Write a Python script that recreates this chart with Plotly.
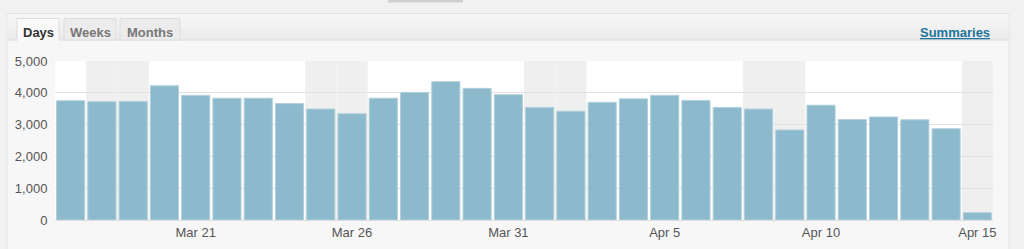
import plotly.graph_objects as go

# ---- data ----
dates = ["Mar 17", "Mar 18", "Mar 19", "Mar 20", "Mar 21", "Mar 22", "Mar 23", "Mar 24",
         "Mar 25", "Mar 26", "Mar 27", "Mar 28", "Mar 29", "Mar 30", "Mar 31", "Apr 1",
         "Apr 2", "Apr 3", "Apr 4", "Apr 5", "Apr 6", "Apr 7", "Apr 8", "Apr 9",
         "Apr 10", "Apr 11", "Apr 12", "Apr 13", "Apr 14", "Apr 15"]
views = [3750, 3720, 3730, 4220, 3920, 3830, 3830, 3660, 3490, 3340,
         3830, 4010, 4350, 4140, 3940, 3540, 3420, 3700, 3810, 3920,
         3760, 3540, 3490, 2830, 3610, 3160, 3240, 3150, 2870, 230]
weekend_days = ["Mar 18", "Mar 19", "Mar 25", "Mar 26", "Apr 1", "Apr 2",
                "Apr 8", "Apr 9", "Apr 15"]
tick_labels = ["Mar 21", "Mar 26", "Mar 31", "Apr 5", "Apr 10", "Apr 15"]
y_ticks = [0, 1000, 2000, 3000, 4000, 5000]
tabs = ["Days", "Weeks", "Months"]

W, H = 1024, 249
L, R, T, B = 55, 31, 61, 29
PW, PH = W - L - R, H - T - B


def xp(px):
    return (px - L) / PW


def yp(py):
    return (H - B - py) / PH


FONT = "Liberation Sans, Arial, Helvetica, sans-serif"

fig = go.Figure()
fig.add_trace(go.Bar(
    x=dates, y=views,
    marker=dict(color="#8db9cc", line=dict(color="#b2d0dd", width=1)),
    hoverinfo="x+y",
))

shapes = []
# top button edge
shapes.append(dict(type="rect", xref="paper", yref="paper", x0=xp(388), x1=xp(463),
                   y0=yp(2.5), y1=yp(-5), fillcolor="#cfcfcf", line=dict(width=0), layer="below"))
# card
shapes.append(dict(type="rect", xref="paper", yref="paper", x0=xp(7), x1=xp(1009),
                   y0=yp(260), y1=yp(13.5), fillcolor="#f7f7f7",
                   line=dict(color="#e2e2e2", width=1), layer="below"))
# header strip (fake gradient)
grad = ["#f6f6f6", "#f4f4f4", "#f2f2f2", "#f0f0f0", "#eeeeee", "#ececec", "#eaeaea"]
y0h, y1h = 14, 40
step = (y1h - y0h) / len(grad)
for i, c in enumerate(grad):
    shapes.append(dict(type="rect", xref="paper", yref="paper", x0=xp(7.5), x1=xp(1008.5),
                       y0=yp(y0h + (i + 1) * step), y1=yp(y0h + i * step),
                       fillcolor=c, line=dict(width=0), layer="below"))
shapes.append(dict(type="line", xref="paper", yref="paper", x0=xp(7.5), x1=xp(1008.5),
                   y0=yp(40), y1=yp(40), line=dict(color="#dcdcdc", width=1), layer="below"))
# tabs
tab_pos = [(17, 59), (64, 116), (120, 180)]
tab_fill = ["#f9f9f9", "#ececec", "#ececec"]
for (a, b), f in zip(tab_pos, tab_fill):
    shapes.append(dict(type="rect", xref="paper", yref="paper", x0=xp(a), x1=xp(b),
                       y0=yp(40.5 if f == "#f9f9f9" else 40), y1=yp(18.5), fillcolor=f,
                       line=dict(color="#dddddd", width=1), layer="below"))
shapes.append(dict(type="line", xref="paper", yref="paper", x0=xp(17.5), x1=xp(58.5),
                   y0=yp(40), y1=yp(40), line=dict(color="#f9f9f9", width=2), layer="below"))
# plot white area
shapes.append(dict(type="rect", xref="paper", yref="paper", x0=0, x1=1, y0=0, y1=1,
                   fillcolor="#ffffff", line=dict(width=0), layer="below"))
# weekend bands
idx = {d: i for i, d in enumerate(dates)}
for d in weekend_days:
    i = idx[d]
    shapes.append(dict(type="rect", xref="x", yref="paper", x0=i - 0.5, x1=min(i + 0.5, len(dates) - 0.5),
                       y0=0, y1=1, fillcolor="#efefef", line=dict(width=0), layer="below"))

annotations = []
for t, (a, b), col in zip(tabs, tab_pos, ["#333333", "#777777", "#777777"]):
    annotations.append(dict(text="<b>%s</b>" % t, xref="paper", yref="paper",
                            x=xp((a + b) / 2), y=yp(32), showarrow=False,
                            font=dict(family=FONT, size=13, color=col),
                            xanchor="center", yanchor="middle"))
annotations.append(dict(text="<b><u>Summaries</u></b>", xref="paper", yref="paper",
                        x=xp(992), y=yp(32), showarrow=False, xanchor="right", yanchor="middle",
                        font=dict(family=FONT, size=13, color="#21759b")))

fig.update_layout(
    width=W, height=H,
    margin=dict(l=L, r=R, t=T, b=B, pad=0, autoexpand=False),
    paper_bgcolor="#f1f1f1",
    plot_bgcolor="#ffffff",
    bargap=0.1,
    showlegend=False,
    shapes=shapes,
    annotations=annotations,
    font=dict(family=FONT, size=13, color="#555555"),
)
fig.update_xaxes(
    type="category", range=[-0.5, len(dates) - 0.5], automargin=False,
    tickmode="array", tickvals=tick_labels, ticktext=tick_labels,
    showgrid=False, zeroline=False, showline=True, linecolor="#dddddd", linewidth=1,
    ticks="", 
    tickfont=dict(family=FONT, size=13, color="#555555"),
    fixedrange=True,
)
fig.update_yaxes(
    range=[0, 5000], tickmode="array", tickvals=y_ticks, automargin=False,
    ticktext=["{:,}".format(v) for v in y_ticks],
    showgrid=True, gridcolor="#e2e2e2", gridwidth=1, zeroline=False,
    ticks="outside", ticklen=4, tickcolor="rgba(0,0,0,0)",
    tickfont=dict(family=FONT, size=13, color="#555555"),
    fixedrange=True,
)

fig.write_html("out.html", config={"displayModeBar": False})
